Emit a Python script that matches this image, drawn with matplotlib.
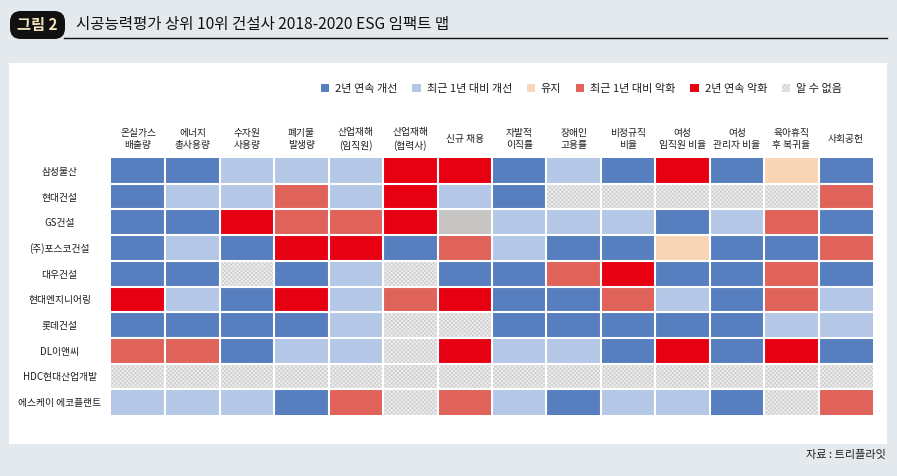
import matplotlib.pyplot as plt
from matplotlib.patches import Rectangle, FancyBboxPatch, Patch

plt.rcParams["font.family"] = ["Noto Sans CJK KR", "DejaVu Sans"]
plt.rcParams["hatch.linewidth"] = 0.45

W, H = 897, 476

# status codes: 0 2년 연속 개선, 1 최근 1년 대비 개선, 2 유지,
# 3 최근 1년 대비 악화, 4 2년 연속 악화, 5 알 수 없음, 6 회색(범례 외)
STATUS_LABELS = ["2년 연속 개선", "최근 1년 대비 개선", "유지",
                 "최근 1년 대비 악화", "2년 연속 악화", "알 수 없음"]
STATUS_COLORS = ["#577ebf", "#b4c7e7", "#f8d5b4", "#e0635a", "#e60012",
                 "#eeeeee", "#c6c5c3"]

COLUMNS = ["온실가스\n배출량", "에너지\n총사용량", "수자원\n사용량", "폐기물\n발생량",
           "산업재해\n(임직원)", "산업재해\n(협력사)", "신규 채용", "자발적\n이직률",
           "장애인\n고용률", "비정규직\n비율", "여성\n임직원 비율", "여성\n관리자 비율",
           "육아휴직\n후 복귀율", "사회공헌"]

COMPANIES = ["삼성물산", "현대건설", "GS건설", "(주)포스코건설", "대우건설",
             "현대엔지니어링", "롯데건설", "DL이앤씨", "HDC현대산업개발",
             "에스케이 에코플랜트"]

samsung = [0, 0, 1, 1, 1, 4, 4, 0, 1, 0, 4, 0, 2, 0]
hyundai = [0, 1, 1, 3, 1, 4, 1, 0, 5, 5, 5, 5, 5, 3]
gs = [0, 0, 4, 3, 3, 4, 6, 1, 1, 1, 0, 1, 3, 0]
posco = [0, 1, 0, 4, 4, 0, 3, 1, 0, 0, 2, 0, 0, 3]
daewoo = [0, 0, 5, 0, 1, 5, 0, 0, 3, 4, 0, 0, 3, 0]
hyundai_eng = [4, 1, 0, 4, 1, 3, 4, 0, 0, 3, 1, 0, 3, 1]
lotte = [0, 0, 0, 0, 1, 5, 5, 0, 0, 0, 0, 0, 1, 1]
dl = [3, 3, 0, 1, 1, 5, 4, 1, 1, 0, 4, 0, 4, 0]
hdc = [5, 5, 5, 5, 5, 5, 5, 5, 5, 5, 5, 5, 5, 5]
sk_eco = [1, 1, 1, 0, 3, 5, 3, 1, 0, 1, 1, 0, 5, 3]
STATUS = [samsung, hyundai, gs, posco, daewoo, hyundai_eng, lotte, dl, hdc, sk_eco]

BG = "#e4e9ee"
INK = "#1e1e1e"
HATCH = "#c9c9c9"
HATCH_PAT = "xxxxxxxx"


def px(x, y):
    """pixel (top-left origin) -> figure fraction"""
    return x / W, 1 - y / H


fig = plt.figure(figsize=(W / 100, H / 100), dpi=100)
fig.patch.set_facecolor(BG)

# white panel
x0, y0 = px(9, 444)
fig.patches.append(Rectangle((x0, y0), 878 / W, 381 / H, transform=fig.transFigure,
                             facecolor="white", edgecolor="none", zorder=-5))

# header: black tag + title + rule
bx, by = px(10, 39)
fig.patches.append(FancyBboxPatch((bx, by), 55 / W, 28 / H, transform=fig.transFigure,
                                  boxstyle="round,pad=0,rounding_size=0.012",
                                  facecolor="#111111", edgecolor="none",
                                  mutation_aspect=W / H))
fig.text(*px(37, 25), "그림 2", color="#f3e4be", fontsize=11, fontweight="bold",
         ha="center", va="center")
fig.text(*px(76, 24), "시공능력평가 상위 10위 건설사 2018-2020 ESG 임팩트 맵",
         color="#111111", fontsize=11.2, ha="left", va="center")
lx0, ly = px(64, 38)
fig.add_artist(plt.Line2D([lx0, 887 / W], [ly, ly], color="#111111", linewidth=1.0))

# heat map grid
ax = fig.add_axes([111 / W, 1 - 415 / H, 762 / W, 257 / H])
ax.set_zorder(2)
ax.patch.set_visible(False)
ax.set_xlim(0, len(COLUMNS))
ax.set_ylim(len(COMPANIES), 0)
for i, row in enumerate(STATUS):
    for j, s in enumerate(row):
        if s == 5:
            ax.add_patch(Rectangle((j, i), 1, 1, facecolor=STATUS_COLORS[5],
                                   edgecolor=HATCH, hatch=HATCH_PAT, linewidth=0))
        else:
            ax.add_patch(Rectangle((j, i), 1, 1, facecolor=STATUS_COLORS[s],
                                   edgecolor="none", linewidth=0))
for k in range(1, len(COLUMNS)):
    ax.axvline(k, color="white", linewidth=1.5)
for k in range(1, len(COMPANIES)):
    ax.axhline(k, color="white", linewidth=1.5)
for side in ax.spines.values():
    side.set_visible(False)

ax.set_xticks([])
ax.set_yticks([i + 0.5 for i in range(len(COMPANIES))])
ax.set_yticklabels(COMPANIES, fontsize=7, color=INK, ha="center")
ax.tick_params(axis="y", length=0, pad=37)

for j, name in enumerate(COLUMNS):
    ax.text(j + 0.5, 1 + 19 / 257, name, transform=ax.get_xaxis_transform(),
            ha="center", va="center", fontsize=7, color=INK, linespacing=1.25)

# legend
handles = [Patch(facecolor=c, edgecolor="none", label=l)
           for c, l in zip(STATUS_COLORS[:5], STATUS_LABELS[:5])]
handles.append(Patch(facecolor=STATUS_COLORS[5], edgecolor=HATCH, hatch=HATCH_PAT,
                     linewidth=0, label=STATUS_LABELS[5]))
leg = fig.legend(handles=handles, loc="center right", bbox_to_anchor=px(842, 89),
                 ncol=6, frameon=False, fontsize=8, handlelength=0.75,
                 handleheight=0.75, handletextpad=0.55, columnspacing=1.3,
                 borderaxespad=0, borderpad=0)
for t in leg.get_texts():
    t.set_color(INK)

fig.text(*px(886, 455), "자료 : 트리플라잇", ha="right", va="center",
         fontsize=8, color=INK)

fig.savefig("out.png", dpi=100, facecolor=BG)
